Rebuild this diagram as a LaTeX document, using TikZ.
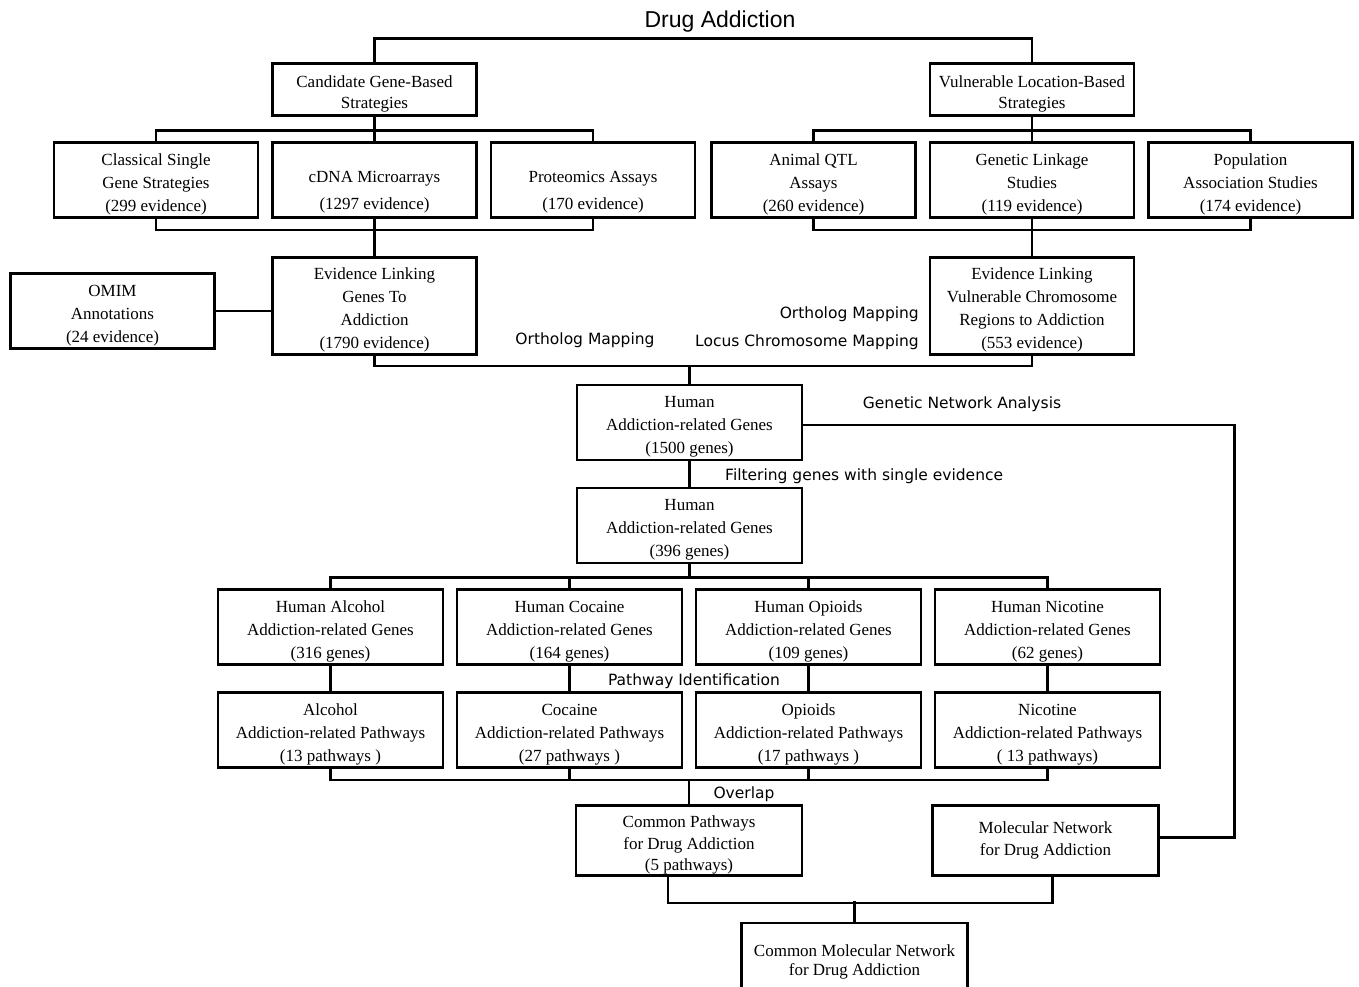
\documentclass[tikz,border=0pt]{standalone}
\usepackage{fontspec}
\setmainfont{Liberation Serif}
\newfontfamily\labelfont{DejaVu Sans}
\newfontfamily\titlefont{Liberation Sans}
\usetikzlibrary{positioning}
\newcommand{\tstr}{\rule{0pt}{20pt}}
\tikzstyle{box} = [rectangle, draw=black, line width=2.6pt, minimum width=204pt, minimum height=75pt, align=center, inner sep=1pt, font=\fontsize{17}{23}\selectfont]
\tikzstyle{gbox} = [box, minimum width=225pt]
\tikzstyle{steplabel} = [font=\labelfont\fontsize{15.5}{18}\selectfont, inner sep=0pt]
\tikzstyle{titlelabel} = [font=\titlefont\fontsize{23}{26}\selectfont, inner sep=0pt]
\tikzstyle{line} = [line width=2.6pt]

\begin{document}
\begin{tikzpicture}[x=1pt, y=-1pt]
    \useasboundingbox (0,0) rectangle (1359,986);
    \fill[white] (0,0) rectangle (1359,986);

    % title and the two strategies
    \node[titlelabel] (title) at (720,22) {Drug Addiction};
    \node[box, minimum height=52pt] (cand) at (374.5,89.5) {\tstr Candidate Gene-Based\\[-2pt]Strategies};
    \node[box, minimum height=52pt] (vuln) at (1032,89.5) {\tstr Vulnerable Location-Based\\[-2pt]Strategies};

    % methods
    \node[box] (cdna) at (374.5,180) {\rule{0pt}{35pt}cDNA Microarrays\\[4pt](1297 evidence)};
    \node[box, left=11.9pt of cdna] (classic) {\tstr Classical Single\\Gene Strategies\\(299 evidence)};
    \node[box, right=11.9pt of cdna] (proteo) {\rule{0pt}{35pt}Proteomics Assays\\[4pt](170 evidence)};
    \node[box] (linkage) at (1032,180) {\tstr Genetic Linkage\\Studies\\(119 evidence)};
    \node[box, left=11.9pt of linkage] (qtl) {\tstr Animal QTL\\Assays\\(260 evidence)};
    \node[box, right=11.9pt of linkage] (assoc) {\tstr Population\\Association Studies\\(174 evidence)};

    % evidence
    \node[box, minimum height=97pt] (evgene) at (374.5,306) {\tstr Evidence Linking\\Genes To\\Addiction\\(1790 evidence)};
    \node[box] (omim) at (112.5,311) {\tstr OMIM\\Annotations\\(24 evidence)};
    \node[box, minimum height=97pt] (evregion) at (1032,306) {\tstr Evidence Linking\\Vulnerable Chromosome\\Regions to Addiction\\(553 evidence)};
    \node[steplabel] (orthoa) at (585,340) {Ortholog Mapping};
    \node[steplabel, anchor=east] (orthob) at (919,314) {Ortholog Mapping};
    \node[steplabel, anchor=east] (locus) at (919,342) {Locus Chromosome Mapping};

    % human genes
    \node[gbox] (human) at (689.5,422.5) {\tstr Human\\Addiction-related Genes\\(1500 genes)};
    \node[gbox, below=25.4pt of human] (filtered) {\tstr Human\\Addiction-related Genes\\(396 genes)};
    \node[steplabel] (netlabel) at (962,404) {Genetic Network Analysis};
    \node[steplabel, anchor=west] (filterlabel) at (725,476) {Filtering genes with single evidence};

    % drugs
    \node[gbox] (alcohol) at (330.5,627) {\tstr Human Alcohol\\Addiction-related Genes\\(316 genes)};
    \node[gbox, right=11.4pt of alcohol] (cocaine) {\tstr Human Cocaine\\Addiction-related Genes\\(164 genes)};
    \node[gbox, right=11.4pt of cocaine] (opioids) {\tstr Human Opioids\\Addiction-related Genes\\(109 genes)};
    \node[gbox, right=11.4pt of opioids] (nicotine) {\tstr Human Nicotine\\Addiction-related Genes\\(62 genes)};
    \node[gbox, below=25.4pt of alcohol] (palcohol) {\tstr Alcohol\\Addiction-related Pathways\\(13 pathways )};
    \node[gbox, below=25.4pt of cocaine] (pcocaine) {\tstr Cocaine\\Addiction-related Pathways\\(27 pathways )};
    \node[gbox, below=25.4pt of opioids] (popioids) {\tstr Opioids\\Addiction-related Pathways\\(17 pathways )};
    \node[gbox, below=25.4pt of nicotine] (pnicotine) {\tstr Nicotine\\Addiction-related Pathways\\( 13 pathways)};
    \node[steplabel] (pathlabel) at (694,681) {Pathway Identification};
    \node[steplabel] (overlap) at (744,794) {Overlap};

    % results
    \node[gbox, minimum width=226pt, minimum height=70pt] (common) at (689,840.5) {\tstr Common Pathways\\[-1pt]for Drug Addiction\\[-2pt](5 pathways)};
    \node[gbox, minimum width=226pt, minimum height=70pt] (molnet) at (1045.5,840.5) {Molecular Network\\[-1pt]for Drug Addiction};
    \node[gbox, minimum width=226pt, minimum height=70pt] (cmn) at (854.5,958) {\tstr Common Molecular Network\\[-4pt]for Drug Addiction};

    % connectors
    \draw[line] (cand.north) -- ++(0,-24) -| (vuln.north);
    \draw[line] (classic.north) -- ++(0,-11) -| (proteo.north);
    \draw[line] (cand.south) -- (cdna.north);
    \draw[line] (qtl.north) -- ++(0,-11) -| (assoc.north);
    \draw[line] (vuln.south) -- (linkage.north);
    \draw[line] (classic.south) -- ++(0,11) -| (proteo.south);
    \draw[line] (cdna.south) -- (evgene.north);
    \draw[line] (qtl.south) -- ++(0,11) -| (assoc.south);
    \draw[line] (linkage.south) -- (evregion.north);
    \draw[line] (omim.east) -- (omim.east -| evgene.west);
    \draw[line] (evgene.south) -- ++(0,10) -| (evregion.south);
    \draw[line] (human.north) -- ++(0,-18);
    \draw[line] (human.south) -- (filtered.north);
    \draw[line] ([yshift=-2.5pt]human.east) -- ++(431,0) |- ([yshift=3pt]molnet.east);
    \draw[line] (alcohol.north) -- ++(0,-11) -| (nicotine.north);
    \draw[line] (cocaine.north) -- ++(0,-11);
    \draw[line] (opioids.north) -- ++(0,-11);
    \draw[line] (filtered.south) -- ++(0,13);
    \foreach \drug in {alcohol, cocaine, opioids, nicotine}
        \draw[line] (\drug.south) -- (p\drug.north);
    \draw[line] (palcohol.south) -- ++(0,11) -| (pnicotine.south);
    \draw[line] (pcocaine.south) -- ++(0,11);
    \draw[line] (popioids.south) -- ++(0,11);
    \draw[line] (common.north) -- ++(0,-24);
    \draw[line] ([xshift=-21pt]common.south) -- ++(0,26) -| ([xshift=7pt]molnet.south);
    \draw[line] (cmn.north) -- ++(0,-21);
\end{tikzpicture}
\end{document}
